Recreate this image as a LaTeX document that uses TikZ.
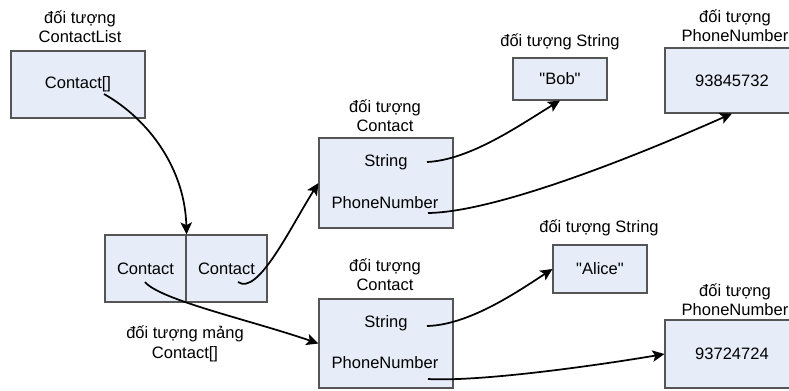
\documentclass[tikz,border=0pt]{standalone}
\usepackage{fontspec}
\setmainfont{Liberation Sans}[Ligatures=TeXOff]
\usetikzlibrary{arrows.meta}
\definecolor{boxfill}{RGB}{230,236,248}
\definecolor{boxline}{RGB}{85,85,85}
\begin{document}
\begin{tikzpicture}[
	x=0.75pt, y=-0.75pt,
	>={Stealth[length=9pt,width=8.5pt,inset=2pt]},
	line width=1.3pt,
	every node/.style={font=\fontsize{12.4}{14.5}\selectfont, inner sep=0pt, align=center},
	box/.style 2 args={draw=boxline, fill=boxfill, line width=0.8pt,
		minimum width=#1*0.75pt, minimum height=#2*0.75pt},
	lbl/.style={text=black},
	ptr/.style={->, black}
	]
	
	\useasboundingbox (0,0) rectangle (789,390);
	
	% objects
	\node[box={134}{67}] (list) at (78,84.5) {Contact[]};
	\node[box={81}{67}] (cellA) at (145.5,268.5) {Contact};
	\node[box={81}{67}] (cellB) at (226.5,268.5) {Contact};
	\node[box={134}{90}] (contactA) at (386,183) {};
	\node[box={134}{89}] (contactB) at (386,343.5) {};
	\node[box={94}{42}] (bob) at (560,79) {"Bob"};
	\node[box={94}{48}] (alice) at (600,269) {"Alice"};
	\node[box={134}{65}] (phoneA) at (732,80.5) {93845732};
	\node[box={134}{68}] (phoneB) at (732,354) {93724724};
	
	% fields
	\node (strA) at (386,162) {String};
	\node (numA) at (385,203) {PhoneNumber};
	\node (strB) at (386,323) {String};
	\node (numB) at (385,363) {PhoneNumber};
	
	% labels
	\node[lbl] (listlbl) at (80,27) {đối tượng\\ContactList};
	\node[lbl] (arrlbl) at (185,344) {đối tượng mảng\\Contact[]};
	\node[lbl] (contactAlbl) at (385,116) {đối tượng\\Contact};
	\node[lbl] (contactBlbl) at (385,275) {đối tượng\\Contact};
	\node[lbl] (boblbl) at (560,42) {đối tượng String};
	\node[lbl] (alicelbl) at (599,228) {đối tượng String};
	\node[lbl] (phoneAlbl) at (735,26) {đối tượng\\PhoneNumber};
	\node[lbl] (phoneBlbl) at (735,300) {đối tượng\\PhoneNumber};
	
	\path
	(104,94) coordinate (listS)
	(238,282) coordinate (cellBS)
	(145,282) coordinate (cellAS)
	(427,162) coordinate (strAS)
	(428,213) coordinate (numAS)
	(427,326) coordinate (strBS)
	(428,379) coordinate (numBS)
	;
	
	% references
	\draw[ptr] (listS) .. controls (150,120) and (185,170) .. (cellA.north east);
	\draw[ptr] (cellBS) .. controls (258,296) and (290,228) .. (contactA.west);
	\draw[ptr] (cellAS) .. controls (160,300) and (250,320) .. (contactB.west);
	\draw[ptr] (strAS) .. controls (470,160) and (520,125) .. (bob.south);
	\draw[ptr] (numAS) .. controls (500,212) and (650,150) .. (phoneA.south);
	\draw[ptr] (strBS) .. controls (470,325) and (520,290) .. (alice.west);
	\draw[ptr] (numBS) .. controls (480,382) and (600,365) .. (phoneB.west);
	
\end{tikzpicture}
\end{document}
